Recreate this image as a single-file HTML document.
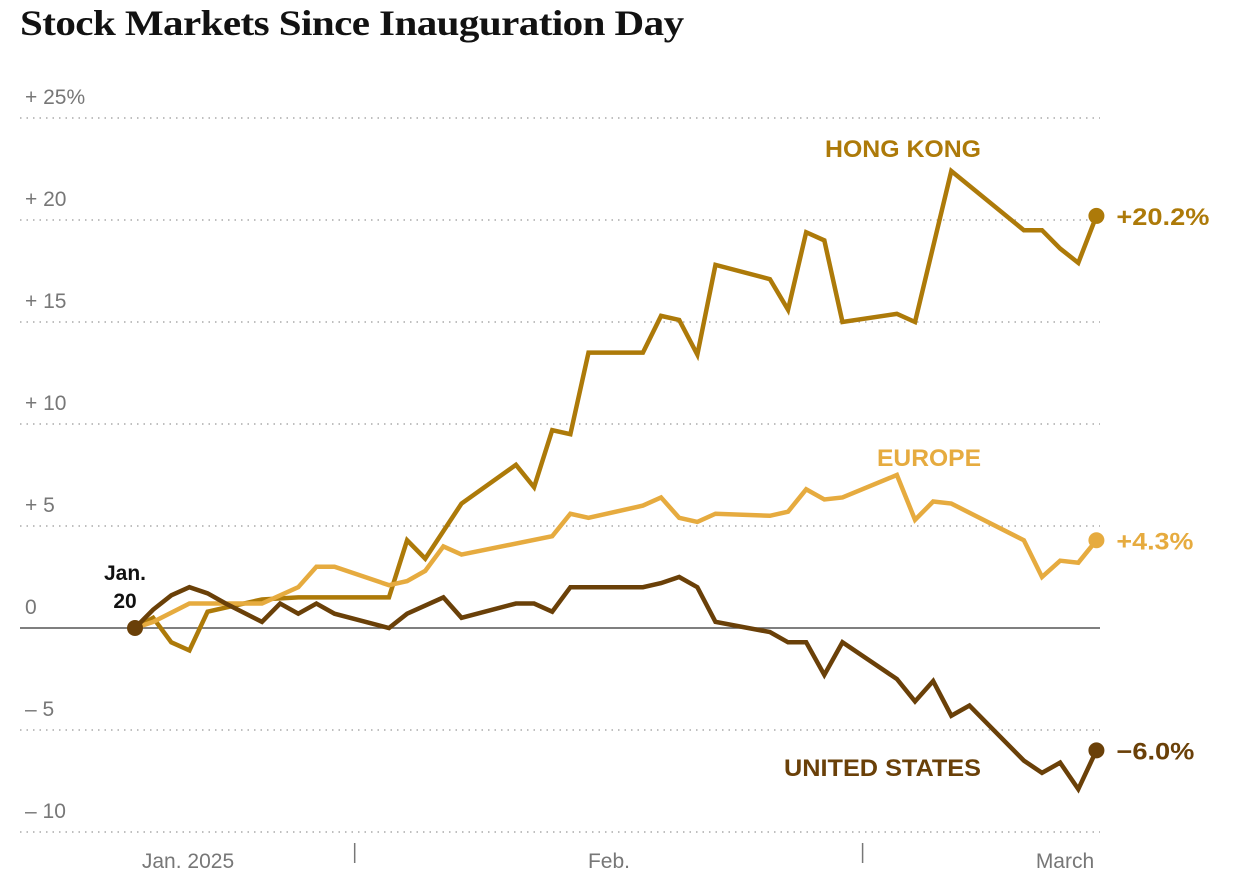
<!DOCTYPE html>
<html><head><meta charset="utf-8"><style>
body{margin:0;background:#fff;width:1256px;height:890px;overflow:hidden;font-family:"Liberation Sans",sans-serif}
h1{position:absolute;left:20px;top:0;margin:0;font-family:"Liberation Serif",serif;font-weight:bold;font-size:36px;letter-spacing:-0.5px;color:#121212;line-height:46px;transform:scaleX(1.14);transform-origin:left top;white-space:nowrap}
</style></head><body>
<h1>Stock Markets Since Inauguration Day</h1>
<svg id="c" width="1256" height="890" style="position:absolute;left:0;top:0"></svg>
<script>
const yTicks=[25,20,15,10,5,0,-5,-10];
const yTickLabels=["+ 25%","+ 20","+ 15","+ 10","+   5","0","–  5","– 10"];
const hkDays=[0,1,2,3,4,5,7,9,14,15,16,18,21,22,23,24,25,28,29,30,31,32,35,36,37,38,39,42,43,45,49,50,51,52,53];
const hkVals=[0,0.5,-0.7,-1.1,0.8,1.0,1.4,1.5,1.5,4.3,3.4,6.1,8.0,6.9,9.7,9.5,13.5,13.5,15.3,15.1,13.4,17.8,17.1,15.6,19.4,19.0,15.0,15.4,15.0,22.4,19.5,19.5,18.6,17.9,20.2];
const euDays=[0,1,3,4,7,9,10,11,14,15,16,17,18,23,24,25,28,29,30,31,32,35,36,37,38,39,42,43,44,45,49,50,51,52,53];
const euVals=[0,0.3,1.2,1.2,1.2,2.0,3.0,3.0,2.1,2.3,2.8,4.0,3.6,4.5,5.6,5.4,6.0,6.4,5.4,5.2,5.6,5.5,5.7,6.8,6.3,6.4,7.5,5.3,6.2,6.1,4.3,2.5,3.3,3.2,4.3];
const usDays=[0,1,2,3,4,5,7,8,9,10,11,14,15,17,18,21,22,23,24,28,29,30,31,32,35,36,37,38,39,42,43,44,45,46,49,50,51,52,53];
const usVals=[0,0.9,1.6,2.0,1.7,1.2,0.3,1.2,0.7,1.2,0.7,0,0.7,1.5,0.5,1.2,1.2,0.8,2.0,2.0,2.2,2.5,2.0,0.3,-0.2,-0.7,-0.7,-2.3,-0.7,-2.5,-3.6,-2.6,-4.3,-3.8,-6.5,-7.1,-6.6,-7.9,-6.0];
const endLabels=["+20.2%","+4.3%","−6.0%"];
const svg=document.getElementById('c');const NS="http://www.w3.org/2000/svg";
const X=d=>135+d*18.14, Y=v=>628-v*20.4;
function mk(t,a,p){const e=document.createElementNS(NS,t);for(const k in a)e.setAttribute(k,a[k]);(p||svg).appendChild(e);return e;}
yTicks.forEach((t,i)=>{
  if(t!==0){const l=mk('line',{x1:20,x2:1100,y1:Y(t),y2:Y(t),stroke:'#aaa','stroke-width':1.5,'stroke-dasharray':'1.5 5'});
  
  }
  const tx=mk('text',{x:25,y:Y(t)-14,'font-size':21,fill:'#777'});tx.textContent=yTickLabels[i];
  
  
});
const z=mk('line',{x1:20,x2:1100,y1:Y(0),y2:Y(0),stroke:'#555','stroke-width':1.5});


[[12,'Feb-separator'],[40,'Mar-separator']].forEach(([d,n])=>{const l=mk('line',{x1:X(d)+2,x2:X(d)+2,y1:843,y2:863,stroke:'#777','stroke-width':1.5});

});
[['Jan. 2025',188],['Feb.',609],['March',1065]].forEach(([s,x])=>{const t=mk('text',{x:x,y:868,'font-size':21,fill:'#777','text-anchor':'middle'});t.textContent=s;

});
const series=[[hkDays,hkVals,'#ad7a09','hong-kong'],[euDays,euVals,'#e6ab3f','europe'],[usDays,usVals,'#6a4008','united-states']];
const endW=[93,77,78];
series.forEach(([ds,vs,c,n],i)=>{
  const p=mk('polyline',{points:ds.map((d,j)=>X(d)+','+Y(vs[j])).join(' '),fill:'none',stroke:c,'stroke-width':4.5,'stroke-linejoin':'miter'});
  
  
  const L=ds.length-1;
  const dot=mk('circle',{cx:X(ds[L]),cy:Y(vs[L]),r:8,fill:c});
  
  
  const t=mk('text',{x:X(ds[L])+20,y:Y(vs[L])+9,'font-size':24,'font-weight':'bold',fill:c,textLength:endW[i],lengthAdjust:'spacingAndGlyphs'});t.textContent=endLabels[i];
  
  
});
[['HONG KONG',157,'#ad7a09','hong-kong-label',156],['EUROPE',466,'#e6ab3f','europe-label',104],['UNITED STATES',776,'#6a4008','united-states-label',197]].forEach(([s,y,c,n,w])=>{
  const t=mk('text',{x:981-w,y:y,'font-size':24,'font-weight':'bold',fill:c,textLength:w,lengthAdjust:'spacingAndGlyphs'});t.textContent=s;
  
  
});
const sd=mk('circle',{cx:X(0),cy:Y(0),r:8,fill:'#6a4008'});


[['Jan.',580],['20',608]].forEach(([s,y])=>{const t=mk('text',{x:125,y:y,'font-size':21,'font-weight':'bold',fill:'#111','text-anchor':'middle'});t.textContent=s;

});
</script>
</body></html>
